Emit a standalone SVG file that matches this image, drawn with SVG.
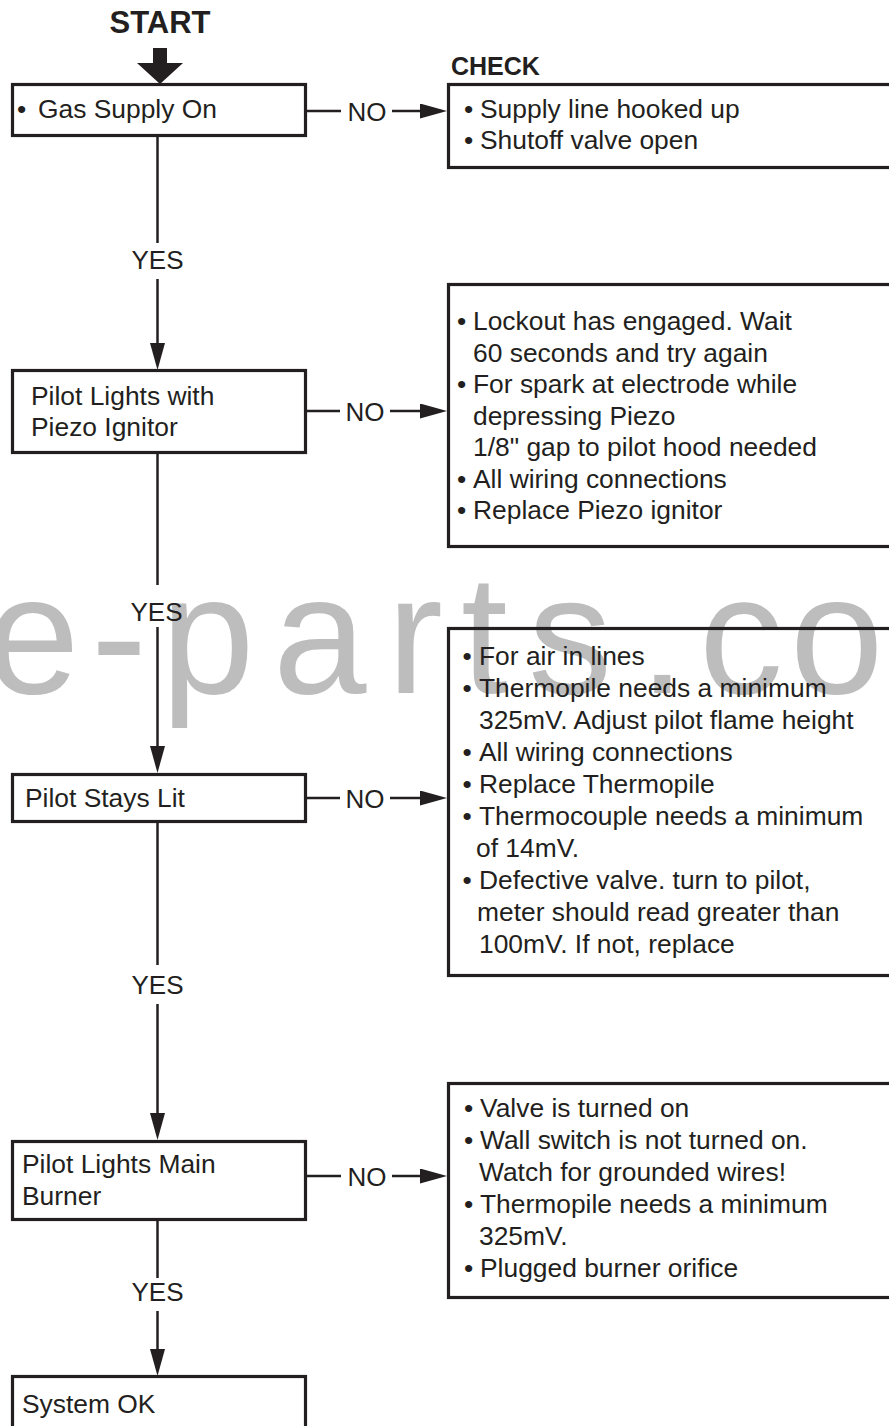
<svg xmlns="http://www.w3.org/2000/svg" width="889" height="1426" viewBox="0 0 889 1426">
<style>
  .t { font-family: "Liberation Sans", Arial, Helvetica, sans-serif; font-size: 26.4px; fill: #231f20; }
  .b { font-family: "Liberation Sans", Arial, Helvetica, sans-serif; font-weight: bold; fill: #231f20; }
  .lbl { font-family: "Liberation Sans", Arial, Helvetica, sans-serif; font-size: 26px; fill: #231f20; text-anchor: middle; }
  .box { fill: none; stroke: #231f20; stroke-width: 3.2; }
  .ln { fill: none; stroke: #231f20; stroke-width: 2.5; }
  .wm { font-family: "Liberation Sans", Arial, Helvetica, sans-serif; font-size: 168px; fill: #bdbdbd; }
</style>
<defs>
  <marker id="ah" markerUnits="userSpaceOnUse" markerWidth="27" markerHeight="15" refX="2" refY="7.5" orient="auto" viewBox="0 0 27 15">
    <path d="M0,0 L27,7.5 L0,15 z" fill="#231f20"/>
  </marker>
</defs>
<rect width="889" height="1426" fill="#ffffff"/>

<text class="wm" x="-14 91 161 273 387 461 528 639 699 790" y="693">e-parts.co</text>

<g id="start">
  <text class="b" x="160" y="33" font-size="31" text-anchor="middle">START</text>
  <polygon points="153,48 167,48 167,63 183,63 160,84 137,63 153,63" fill="#231f20"/>
</g>

<g id="check-label">
  <text class="b" x="451" y="75" font-size="25">CHECK</text>
</g>

<g id="n1">
  <rect class="box" x="12.5" y="84.5" width="293" height="51"/>
  <text class="t" x="17" y="118">•</text>
  <text class="t" x="38" y="118">Gas Supply On</text>
</g>

<g id="c1">
  <rect class="box" x="448.5" y="84.5" width="460" height="83"/>
  <text class="t" x="464" y="118">•</text>
  <text class="t" x="480" y="118">Supply line hooked up</text>
  <text class="t" x="464" y="149">•</text>
  <text class="t" x="480" y="149">Shutoff valve open</text>
</g>

<g id="n2">
  <rect class="box" x="12.5" y="370.5" width="293" height="82"/>
  <text class="t" x="31" y="405">Pilot Lights with</text>
  <text class="t" x="31" y="436">Piezo Ignitor</text>
</g>

<g id="c2">
  <rect class="box" x="448.5" y="284.5" width="460" height="262"/>
  <text class="t" x="457" y="330">•</text>
  <text class="t" x="473" y="330">Lockout has engaged. Wait</text>
  <text class="t" x="473" y="361.5">60 seconds and try again</text>
  <text class="t" x="457" y="393">•</text>
  <text class="t" x="473" y="393">For spark at electrode while</text>
  <text class="t" x="473" y="424.5">depressing Piezo</text>
  <text class="t" x="473" y="456">1/8" gap to pilot hood needed</text>
  <text class="t" x="457" y="487.5">•</text>
  <text class="t" x="473" y="487.5">All wiring connections</text>
  <text class="t" x="457" y="519">•</text>
  <text class="t" x="473" y="519">Replace Piezo ignitor</text>
</g>

<g id="n3">
  <rect class="box" x="12.5" y="774.5" width="293" height="47"/>
  <text class="t" x="25" y="807">Pilot Stays Lit</text>
</g>

<g id="c3">
  <rect class="box" x="448.5" y="628.5" width="460" height="347"/>
  <text class="t" x="462.5" y="665">•</text>
  <text class="t" x="479" y="665">For air in lines</text>
  <text class="t" x="462.5" y="697">•</text>
  <text class="t" x="479" y="697">Thermopile needs a minimum</text>
  <text class="t" x="479" y="729">325mV. Adjust pilot flame height</text>
  <text class="t" x="462.5" y="761">•</text>
  <text class="t" x="479" y="761">All wiring connections</text>
  <text class="t" x="462.5" y="793">•</text>
  <text class="t" x="479" y="793">Replace Thermopile</text>
  <text class="t" x="462.5" y="825">•</text>
  <text class="t" x="479" y="825">Thermocouple needs a minimum</text>
  <text class="t" x="476" y="857">of 14mV.</text>
  <text class="t" x="462.5" y="889">•</text>
  <text class="t" x="479" y="889">Defective valve. turn to pilot,</text>
  <text class="t" x="477" y="921">meter should read greater than</text>
  <text class="t" x="479" y="953">100mV. If not, replace</text>
</g>

<g id="n4">
  <rect class="box" x="12.5" y="1141.5" width="293" height="78"/>
  <text class="t" x="22" y="1173">Pilot Lights Main</text>
  <text class="t" x="22" y="1205">Burner</text>
</g>

<g id="c4">
  <rect class="box" x="448.5" y="1083.5" width="460" height="214"/>
  <text class="t" x="464" y="1117">•</text>
  <text class="t" x="480" y="1117">Valve is turned on</text>
  <text class="t" x="464" y="1149">•</text>
  <text class="t" x="480" y="1149">Wall switch is not turned on.</text>
  <text class="t" x="479" y="1181">Watch for grounded wires!</text>
  <text class="t" x="464" y="1213">•</text>
  <text class="t" x="480" y="1213">Thermopile needs a minimum</text>
  <text class="t" x="479" y="1245">325mV.</text>
  <text class="t" x="464" y="1277">•</text>
  <text class="t" x="480" y="1277">Plugged burner orifice</text>
</g>

<g id="n5">
  <rect class="box" x="12.5" y="1376.5" width="293" height="100"/>
  <text class="t" x="22" y="1413">System OK</text>
</g>

<g id="connectors">
  <line class="ln" x1="157.5" y1="137" x2="157.5" y2="243"/>
  <line class="ln" x1="157.5" y1="279" x2="157.5" y2="345" marker-end="url(#ah)"/>
  <text class="lbl" x="157.5" y="269">YES</text>

  <line class="ln" x1="157.5" y1="454" x2="157.5" y2="585"/>
  <line class="ln" x1="157.5" y1="627" x2="157.5" y2="748" marker-end="url(#ah)"/>
  <text class="lbl" x="156.5" y="621">YES</text>

  <line class="ln" x1="157.5" y1="823" x2="157.5" y2="965"/>
  <line class="ln" x1="157.5" y1="1004" x2="157.5" y2="1115" marker-end="url(#ah)"/>
  <text class="lbl" x="157.5" y="994">YES</text>

  <line class="ln" x1="157.5" y1="1221" x2="157.5" y2="1278"/>
  <line class="ln" x1="157.5" y1="1311" x2="157.5" y2="1351" marker-end="url(#ah)"/>
  <text class="lbl" x="157.5" y="1301">YES</text>

  <line class="ln" x1="307" y1="111" x2="341" y2="111"/>
  <line class="ln" x1="392" y1="111" x2="422" y2="111" marker-end="url(#ah)"/>
  <text class="lbl" x="367" y="120.5">NO</text>

  <line class="ln" x1="307" y1="411" x2="340" y2="411"/>
  <line class="ln" x1="390" y1="411" x2="422" y2="411" marker-end="url(#ah)"/>
  <text class="lbl" x="365" y="420.5">NO</text>

  <line class="ln" x1="307" y1="798" x2="340" y2="798"/>
  <line class="ln" x1="390" y1="798" x2="422" y2="798" marker-end="url(#ah)"/>
  <text class="lbl" x="365" y="807.5">NO</text>

  <line class="ln" x1="307" y1="1176" x2="341" y2="1176"/>
  <line class="ln" x1="392" y1="1176" x2="422" y2="1176" marker-end="url(#ah)"/>
  <text class="lbl" x="367" y="1185.5">NO</text>
</g>
</svg>
